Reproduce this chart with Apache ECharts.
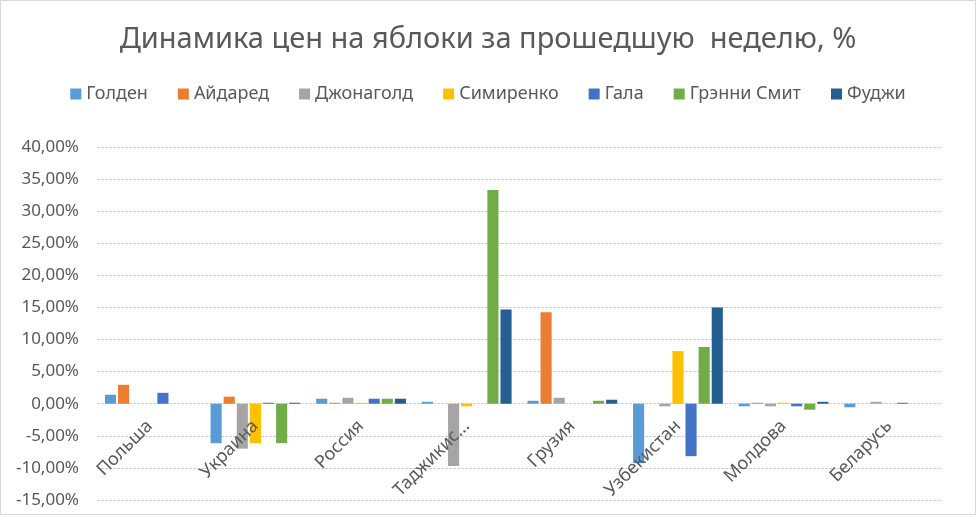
<!DOCTYPE html>
<html>
<head>
<meta charset="utf-8">
<script src="https://cdn.jsdelivr.net/npm/echarts@6/dist/echarts.min.js"></script>
<style>
  html, body { margin: 0; padding: 0; background: #fff; }
  #chart { width: 976px; height: 515px; box-sizing: border-box; border: 1px solid #d9d9d9; }
</style>
</head>
<body>
<div id="chart"></div>
<script>
// страны
var countries = ['Польша', 'Украина', 'Россия', 'Таджикистан', 'Грузия', 'Узбекистан', 'Молдова', 'Беларусь'];
// изменение цен, %
var golden     = [1.4, -6.15, 0.78, 0.3, 0.46, -9.25, -0.4, -0.55];
var aidared    = [2.95, 1.1, 0.15, 0, 14.26, 0, 0.15, 0];
var jonagold   = [0, -7.0, 0.93, -9.7, 0.93, -0.4, -0.4, 0.3];
var simirenko  = [0, -6.15, 0.15, -0.4, 0, 8.2, 0.15, 0];
var gala       = [1.7, 0.15, 0.78, 0, 0, -8.17, -0.4, 0.15];
var granny     = [0, -6.15, 0.78, 33.3, 0.46, 8.84, -0.93, 0];
var fuji       = [0, 0.15, 0.78, 14.7, 0.62, 15.0, 0.3, 0];

var seriesNames = ['Голден', 'Айдаред', 'Джонаголд', 'Симиренко', 'Гала', 'Грэнни Смит', 'Фуджи'];
var seriesData = [golden, aidared, jonagold, simirenko, gala, granny, fuji];
var colors = ['#5B9BD5', '#ED7D31', '#A5A5A5', '#FFC000', '#4472C4', '#70AD47', '#255E91'];

var yMin = -15, yMax = 40;
var gridTop = 146, gridBottom = 14;
var font = 'Noto Sans';
var myChart = echarts.init(document.getElementById('chart'));

// подписи стран у нулевой линии, как в Excel
var plotH = 515 - gridTop - gridBottom;
var zeroOffset = -plotH * (0 - yMin) / (yMax - yMin);

var option = {
    color: colors,
    animation: false,
    title: {
        text: 'Динамика цен на яблоки за прошедшую  неделю, %',
        left: 'center',
        top: 19,
        textStyle: { fontFamily: font, fontSize: 29, fontWeight: 'normal', color: '#595959' }
    },
    legend: {
        data: seriesNames,
        top: 79,
        left: 'center',
        icon: 'rect',
        itemWidth: 11,
        itemHeight: 11,
        itemGap: 30,
        itemStyle: { borderWidth: 0 },
        textStyle: { fontFamily: font, fontSize: 18, color: '#595959' }
    },
    grid: { left: 96, right: 33, top: gridTop, bottom: gridBottom, outerBoundsMode: 'none' },
    xAxis: {
        type: 'category',
        data: countries,
        offset: zeroOffset,
        z: 5,
        axisTick: { show: false },
        axisLine: { show: false, onZero: false },
        axisLabel: {
            rotate: 45,
            interval: 0,
            margin: 20,
            fontFamily: font,
            fontSize: 18,
            color: '#595959',
            formatter: function (v) { return v.length > 10 ? v.slice(0, 8) + '...' : v; }
        }
    },
    yAxis: {
        type: 'value',
        min: yMin,
        max: yMax,
        interval: 5,
        axisLine: { show: false },
        axisTick: { show: false },
        axisLabel: {
            fontFamily: font,
            fontSize: 17,
            color: '#595959',
            margin: 18,
            formatter: function (v) { return v.toFixed(2).replace('.', ',') + '%'; }
        },
        splitLine: { lineStyle: { color: '#d0d0d0', type: [3, 1] } }
    },
    series: seriesNames.map(function (name, i) {
        return {
            name: name,
            type: 'bar',
            data: seriesData[i],
            barGap: '18%',
            barCategoryGap: '15%'
        };
    })
};
myChart.setOption(option);
</script>
</body>
</html>
